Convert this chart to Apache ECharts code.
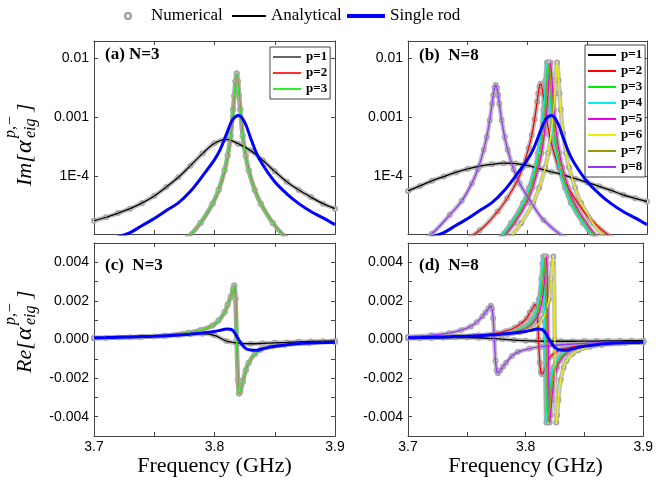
<!DOCTYPE html>
<html>
<head>
<meta charset="utf-8">
<title>Im / Re of alpha eig</title>
<script src="https://cdn.jsdelivr.net/npm/echarts@6/dist/echarts.min.js"></script>
<style>
  html, body { margin: 0; padding: 0; background: #fff; }
  #chart { width: 656px; height: 483px; }
</style>
</head>
<body>
<div id="chart"></div>
<script>
// ---- values (GHz, Im / Re) ----

// broad p=1 modes, 0.01 GHz grid
const freqGrid = [3.70, 3.71, 3.72, 3.73, 3.74, 3.75, 3.76, 3.77, 3.78, 3.79, 3.80,
                  3.81, 3.82, 3.83, 3.84, 3.85, 3.86, 3.87, 3.88, 3.89, 3.90];
const imA1 = [1.75e-5, 2.0e-5, 2.35e-5, 2.8e-5, 3.5e-5, 4.6e-5, 6.5e-5, 9.5e-5, 1.5e-4, 2.4e-4, 3.6e-4,
              4.2e-4, 3.5e-4, 2.7e-4, 1.85e-4, 1.2e-4, 8.0e-5, 5.8e-5, 4.4e-5, 3.4e-5, 2.8e-5];
const reA1 = [0.00007, 0.00008, 0.0001, 0.00012, 0.00014, 0.00016, 0.0002, 0.00023, 0.00027, 0.0003, 0.00022,
              -0.00008, -0.00019, -0.00022, -0.0002, -0.00017, -0.00015, -0.00012, -0.0001, -0.00009, -0.00008];
const imB1 = [5.6e-5, 6.8e-5, 8.3e-5, 9.8e-5, 1.15e-4, 1.32e-4, 1.47e-4, 1.58e-4, 1.65e-4, 1.63e-4, 1.52e-4,
              1.33e-4, 1.18e-4, 1.05e-4, 9.0e-5, 7.8e-5, 6.7e-5, 5.7e-5, 4.8e-5, 4.2e-5, 3.7e-5];
const reB1 = [0.00006, 0.00007, 0.00008, 0.00009, 0.0001, 0.0001, 0.00009, 0.00006, 0.00002, -0.00003, -0.00006,
              -0.00008, -0.00009, -0.00009, -0.00009, -0.00008, -0.00008, -0.00007, -0.00007, -0.00006, -0.00006];

// N=3, p=2 and p=3 (almost on top of each other)
const freqA2 = [3.70, 3.7385, 3.7585, 3.7785, 3.7885, 3.7985, 3.8035, 3.8085, 3.8110, 3.8135, 3.8155, 3.8165, 3.8175,
                3.8185, 3.8195, 3.8205, 3.8215, 3.8235, 3.8260, 3.8285, 3.8335, 3.8385, 3.8485, 3.8585, 3.8785, 3.90];
const freqA3 = [3.70, 3.7383, 3.7583, 3.7783, 3.7883, 3.7983, 3.8033, 3.8083, 3.8108, 3.8133, 3.8153, 3.8163, 3.8173,
                3.8183, 3.8193, 3.8203, 3.8213, 3.8233, 3.8258, 3.8283, 3.8333, 3.8383, 3.8483, 3.8583, 3.8783, 3.90];
const imA23 = [1.5e-6, 3.0e-6, 5.0e-6, 9.5e-6, 1.6e-5, 3.4e-5, 5.8e-5, 1.25e-4, 2.2e-4, 4.8e-4, 1.35e-3, 2.3e-3, 4.0e-3,
               5.5e-3, 4.0e-3, 2.3e-3, 1.35e-3, 4.8e-4, 2.2e-4, 1.25e-4, 5.8e-5, 3.4e-5, 1.6e-5, 9.5e-6, 5.0e-6, 2.9e-6];
const reA23 = [0.00008, 0.00013, 0.0002, 0.00035, 0.00048, 0.00072, 0.00098, 0.00142, 0.0018, 0.0022, 0.0026, 0.0028, 0.0021,
               0.0, -0.0021, -0.0028, -0.0027, -0.0022, -0.0016, -0.0012, -0.00075, -0.00052, -0.00035, -0.00027, -0.00018, -0.00012];

// single rod
const freqRod = [3.70, 3.71, 3.72, 3.73, 3.74, 3.75, 3.76, 3.77, 3.78, 3.79, 3.80, 3.805, 3.81,
                 3.815, 3.82, 3.825, 3.83, 3.835, 3.84, 3.85, 3.86, 3.87, 3.88, 3.89, 3.90];
const imRod = [6.5e-6, 7.8e-6, 9.3e-6, 1.1e-5, 1.45e-5, 1.9e-5, 2.6e-5, 3.5e-5, 5.5e-5, 1.0e-4, 1.9e-4, 2.9e-4, 5.2e-4,
               9.0e-4, 1.06e-3, 8.2e-4, 4.4e-4, 2.4e-4, 1.55e-4, 8.0e-5, 5.0e-5, 3.4e-5, 2.5e-5, 1.95e-5, 1.5e-5];
const reRod = [0.00009, 0.0001, 0.00012, 0.00013, 0.00015, 0.00017, 0.0002, 0.00023, 0.00028, 0.00034, 0.00042, 0.00048, 0.00054,
               0.00048, 0.0, -0.00042, -0.00055, -0.00056, -0.00048, -0.00035, -0.00027, -0.00021, -0.00018, -0.00016, -0.00014];

// N=8, p=2
const freqB2 = [3.70, 3.73, 3.76, 3.775, 3.783, 3.791, 3.796, 3.801, 3.8035, 3.806, 3.808, 3.809, 3.810,
                3.811, 3.812, 3.813, 3.814, 3.816, 3.8185, 3.821, 3.826, 3.831, 3.841, 3.851, 3.871, 3.90];
const imB2 = [3e-6, 5e-6, 1.2e-5, 2.5e-5, 4.2e-5, 8.0e-5, 1.4e-4, 3.0e-4, 4.9e-4, 9.3e-4, 1.8e-3, 2.5e-3, 3.3e-3,
              3.7e-3, 3.3e-3, 2.5e-3, 1.8e-3, 9.3e-4, 4.9e-4, 3.0e-4, 1.4e-4, 8.0e-5, 3.8e-5, 2.0e-5, 9e-6, 4.5e-6];
const reB2 = [0.0001, 0.00014, 0.00022, 0.00032, 0.00043, 0.00062, 0.00083, 0.0011, 0.0014, 0.0016, 0.0018, 0.0017, 0.0012,
              0.0, -0.0012, -0.0017, -0.0018, -0.0016, -0.0012, -0.0009, -0.00065, -0.0005, -0.00037, -0.00029, -0.0002, -0.00014];

// N=8, p=8
const freqB8 = [3.70, 3.72, 3.735, 3.745, 3.7534, 3.7584, 3.7634, 3.7659, 3.7684, 3.7704, 3.7714, 3.7724,
                3.7734, 3.7744, 3.7754, 3.7764, 3.7784, 3.7809, 3.7834, 3.7884, 3.7934, 3.8034, 3.8134, 3.8334, 3.86, 3.90];
const imB8 = [5.5e-6, 1.05e-5, 2.2e-5, 3.8e-5, 7.5e-5, 1.3e-4, 2.8e-4, 4.6e-4, 8.8e-4, 1.69e-3, 2.37e-3, 3.13e-3,
              3.5e-3, 3.13e-3, 2.37e-3, 1.69e-3, 8.8e-4, 4.6e-4, 2.8e-4, 1.3e-4, 7.5e-5, 3.5e-5, 1.8e-5, 8.5e-6, 5e-6, 2.5e-6];
const reB8 = [0.00013, 0.00022, 0.00033, 0.00048, 0.00068, 0.0009, 0.0012, 0.0014, 0.0016, 0.00175, 0.0016, 0.0011,
              0.0, -0.0011, -0.0016, -0.00175, -0.0016, -0.0014, -0.0012, -0.00085, -0.00065, -0.00047, -0.00037, -0.00026, -0.00018, -0.00012];

// N=8, p=3..7: same narrow line shape, different centres
const freqB3 = [3.70, 3.7568, 3.7768, 3.7868, 3.7968, 3.8018, 3.8068, 3.8093, 3.8118, 3.8138, 3.8148, 3.8155, 3.8168,
                3.8181, 3.8188, 3.8198, 3.8218, 3.8243, 3.8268, 3.8318, 3.8368, 3.8468, 3.8568, 3.8768, 3.90];
const freqB4 = [3.70, 3.7563, 3.7763, 3.7863, 3.7963, 3.8013, 3.8063, 3.8088, 3.8113, 3.8133, 3.8143, 3.8150, 3.8163,
                3.8176, 3.8183, 3.8193, 3.8213, 3.8238, 3.8263, 3.8313, 3.8363, 3.8463, 3.8563, 3.8763, 3.90];
const freqB5 = [3.70, 3.7592, 3.7792, 3.7892, 3.7992, 3.8042, 3.8092, 3.8117, 3.8142, 3.8162, 3.8172, 3.8179, 3.8192,
                3.8205, 3.8212, 3.8222, 3.8242, 3.8267, 3.8292, 3.8342, 3.8392, 3.8492, 3.8592, 3.8792, 3.90];
const freqB6 = [3.70, 3.7648, 3.7848, 3.7948, 3.8048, 3.8098, 3.8148, 3.8173, 3.8198, 3.8218, 3.8228, 3.8235, 3.8248,
                3.8261, 3.8268, 3.8278, 3.8298, 3.8323, 3.8348, 3.8398, 3.8448, 3.8548, 3.8648, 3.8848, 3.90];
const freqB7 = [3.70, 3.7580, 3.7780, 3.7880, 3.7980, 3.8030, 3.8080, 3.8105, 3.8130, 3.8150, 3.8160, 3.8167, 3.8180,
                3.8193, 3.8200, 3.8210, 3.8230, 3.8255, 3.8280, 3.8330, 3.8380, 3.8480, 3.8580, 3.8780, 3.90];
const imNarrow = [1.0e-6, 3.9e-6, 8.9e-6, 1.6e-5, 3.5e-5, 6.3e-5, 1.4e-4, 2.45e-4, 5.3e-4, 1.33e-3, 2.5e-3, 4.2e-3,
                  8.4e-3, 4.2e-3, 2.5e-3, 1.33e-3, 5.3e-4, 2.45e-4, 1.4e-4, 6.3e-5, 3.5e-5, 1.6e-5, 8.9e-6, 3.9e-6, 2.0e-6];
const reNarrow = [9.6e-5, 1.87e-4, 2.79e-4, 3.73e-4, 5.57e-4, 7.4e-4, 1.1e-3, 1.45e-3, 2.09e-3, 3.14e-3, 3.93e-3, 4.3e-3,
                  0, -4.3e-3, -3.93e-3, -3.14e-3, -2.09e-3, -1.45e-3, -1.1e-3, -7.4e-4, -5.57e-4, -3.73e-4, -2.79e-4, -1.87e-4, -1.33e-4];

const colorsA = ['#000000', '#ff3030', '#30ee30'];
const colorsB = ['#000000', '#ff0000', '#00ee00', '#00eeee', '#ee00ee', '#eeee00', '#999900', '#9933ff'];

// ---- helpers ----
const serif = '"Liberation Serif", "Times New Roman", serif';
const sans = '"Liberation Sans", Arial, sans-serif';
const frame = '#444';

function pts(f, v) { return f.map((x, i) => [x, v[i]]); }

function numerical(g, f, v) {
    return {
        name: 'Numerical', type: 'line', xAxisIndex: g, yAxisIndex: g,
        data: pts(f, v), smooth: 0.35,
        symbol: 'emptyCircle', symbolSize: 4, showAllSymbol: true,
        lineStyle: { color: 'rgba(150,150,150,0.6)', width: 4.5 },
        itemStyle: { color: '#a8a8a8', borderWidth: 1 },
        z: 2, silent: true
    };
}

function analytical(g, name, color, f, v) {
    return {
        name: name, type: 'line', xAxisIndex: g, yAxisIndex: g,
        data: pts(f, v), smooth: 0.35, symbol: 'none',
        lineStyle: { color: color, width: 1.3 }, itemStyle: { color: color },
        z: 3, silent: true
    };
}

function rod(g, v) {
    return {
        name: 'Single rod', type: 'line', xAxisIndex: g, yAxisIndex: g,
        data: pts(freqRod, v), smooth: 0.35, symbol: 'none',
        lineStyle: { color: '#0000ff', width: 3 }, itemStyle: { color: '#0000ff' },
        z: 4, silent: true
    };
}

function freqLabel(v) {
    const t = Math.round(v * 100);
    return t % 10 === 0 ? (t / 100).toFixed(1) : '';
}
function logLabel(v) {
    const e = Math.log10(v), r = Math.round(e);
    if (Math.abs(e - r) > 1e-6) return '';
    return { '-2': '0.01', '-3': '0.001', '-4': '1E-4' }[r] || '';
}
function reLabel(v) {
    const k = Math.round(v * 1000);
    if (k % 2 !== 0 || Math.abs(k) > 4) return '';
    return (k / 1000).toFixed(3);
}

// ---- axes ----
const grids = [
    { left: 94, top: 41, width: 241, height: 193 },
    { left: 408, top: 41, width: 239, height: 193 },
    { left: 94, top: 243, width: 241, height: 193 },
    { left: 408, top: 243, width: 239, height: 193 }
];

const xAxes = [];
const yAxes = [];
[false, true].forEach(second => {
    grids.forEach((g, i) => {
        const bottomRow = i >= 2;
        xAxes.push({
            type: 'value', gridIndex: i, position: second ? 'top' : 'bottom',
            min: 3.7, max: 3.9, interval: 0.05,
            axisLine: { onZero: false, lineStyle: { color: frame } },
            axisTick: { inside: true, length: 4, lineStyle: { color: frame } },
            splitLine: { show: false },
            axisLabel: {
                show: !second && bottomRow, formatter: freqLabel,
                fontFamily: sans, fontSize: 14, color: '#000', margin: 4
            },
            name: (!second && bottomRow) ? 'Frequency (GHz)' : '',
            nameLocation: 'middle', nameGap: 14,
            nameTextStyle: { fontFamily: serif, fontSize: 22, color: '#000' }
        });
        const common = {
            gridIndex: i, position: second ? 'right' : 'left',
            axisLine: { show: true, onZero: false, lineStyle: { color: frame } },
            axisTick: { show: true, inside: true, length: 4, lineStyle: { color: frame } },
            splitLine: { show: false },
            axisLabel: {
                show: !second, fontFamily: sans, fontSize: 14, color: '#000', margin: 5,
                formatter: bottomRow ? reLabel : logLabel
            }
        };
        if (bottomRow) {
            yAxes.push(Object.assign({ type: 'value', min: -0.005, max: 0.005, interval: 0.001 }, common));
        } else {
            yAxes.push(Object.assign({ type: 'log', logBase: 10, min: 1.04e-5, max: 0.0195 }, common));
        }
    });
});

// ---- series ----
const series = [];
// (a) N=3, Im
series.push(numerical(0, freqGrid, imA1), numerical(0, freqA2, imA23), numerical(0, freqA3, imA23));
series.push(analytical(0, 'p=1', colorsA[0], freqGrid, imA1),
            analytical(0, 'p=2', colorsA[1], freqA2, imA23),
            analytical(0, 'p=3', colorsA[2], freqA3, imA23));
series.push(rod(0, imRod));
// (c) N=3, Re
series.push(numerical(2, freqGrid, reA1), numerical(2, freqA2, reA23), numerical(2, freqA3, reA23));
series.push(analytical(2, 'p=1', colorsA[0], freqGrid, reA1),
            analytical(2, 'p=2', colorsA[1], freqA2, reA23),
            analytical(2, 'p=3', colorsA[2], freqA3, reA23));
series.push(rod(2, reRod));
// (b)/(d) N=8
const modesB = [
    [freqGrid, imB1, reB1], [freqB2, imB2, reB2], [freqB3, imNarrow, reNarrow], [freqB4, imNarrow, reNarrow],
    [freqB5, imNarrow, reNarrow], [freqB6, imNarrow, reNarrow], [freqB7, imNarrow, reNarrow], [freqB8, imB8, reB8]
];
modesB.forEach(m => {
    series.push(numerical(1, m[0], m[1]));
    series.push(numerical(3, m[0], m[2]));
});
modesB.forEach((m, k) => {
    series.push(analytical(1, 'p=' + (k + 1), colorsB[k], m[0], m[1]));
    series.push(analytical(3, 'p=' + (k + 1), colorsB[k], m[0], m[2]));
});
series.push(rod(1, imRod), rod(3, reRod));
// only for the top legend entry
series.push({ name: 'Analytical', type: 'line', xAxisIndex: 0, yAxisIndex: 0, data: [],
              lineStyle: { color: '#000' }, itemStyle: { color: '#000' } });

// ---- legends ----
const topText = { fontFamily: serif, fontSize: 17, color: '#000', lineHeight: 20 };
const boxText = { fontFamily: serif, fontWeight: 'bold', fontSize: 13, color: '#000', lineHeight: 14 };
const legends = [
    { data: [{ name: 'Numerical', icon: 'emptyCircle', itemStyle: { color: '#999', borderColor: '#999', borderWidth: 0.8 } }],
      left: 124, top: 6, padding: 0, itemWidth: 6, itemHeight: 6, selectedMode: false,
      textStyle: Object.assign({ padding: [0, 0, 0, 15] }, topText) },
    { data: [{ name: 'Analytical', icon: 'rect', itemStyle: { color: '#000' } }],
      left: 232, top: 6, padding: 0, itemWidth: 34, itemHeight: 2, selectedMode: false, textStyle: topText },
    { data: [{ name: 'Single rod', icon: 'rect', itemStyle: { color: '#0000ff' } }],
      left: 347, top: 6, padding: 0, itemWidth: 38, itemHeight: 4, selectedMode: false, textStyle: topText },
    { data: ['p=1', 'p=2', 'p=3'].map((n, k) => ({ name: n, itemStyle: { color: k === 0 ? '#666' : colorsA[k] } })),
      left: 270, top: 47, orient: 'vertical', icon: 'rect', itemWidth: 28, itemHeight: 2, itemGap: 2,
      padding: 3, borderColor: frame, borderWidth: 1, backgroundColor: '#fff', selectedMode: false,
      textStyle: boxText, z: 10 },
    { data: colorsB.map((c, k) => ({ name: 'p=' + (k + 1), itemStyle: { color: c } })),
      left: 585, top: 45, orient: 'vertical', icon: 'rect', itemWidth: 28, itemHeight: 2, itemGap: 2,
      padding: 3, borderColor: frame, borderWidth: 1, backgroundColor: '#fff', selectedMode: false,
      textStyle: boxText, z: 10 }
];

// ---- text: panel labels and rotated y titles ----
function panelLabel(text, x, y) {
    return { type: 'text', x: x, y: y, z: 20,
             style: { text: text, font: 'bold 17px ' + serif, fill: '#000',
                      align: 'left', verticalAlign: 'middle', textAlign: 'left', textVerticalAlign: 'middle' } };
}
function piece(text, x, y, size) {
    return { type: 'text', x: x, y: y,
             style: { text: text, font: 'italic ' + size + 'px ' + serif, fill: '#000',
                      align: 'left', verticalAlign: 'middle', textAlign: 'left', textVerticalAlign: 'middle' } };
}
function yTitle(head, bottomY) {
    return { type: 'group', x: 32, y: bottomY, rotation: Math.PI / 2, z: 20,
             children: [
                 piece(head + '[', 0, -7, 22),
                 piece('\u03b1', 33, -7, 24),
                 piece('p,\u2212', 48, -21, 16),
                 piece('eig', 48, -1, 16),
                 piece(']', 74, -7, 22)
             ] };
}

const chart = echarts.init(document.getElementById('chart'), null, { renderer: 'canvas' });
chart.setOption({
    animation: false,
    backgroundColor: '#fff',
    grid: grids,
    xAxis: xAxes,
    yAxis: yAxes,
    legend: legends,
    series: series,
    graphic: { elements: [
        panelLabel('(a) N=3', 105, 55),
        panelLabel('(b)  N=8', 419, 56),
        panelLabel('(c)  N=3', 105, 266),
        panelLabel('(d)  N=8', 419, 266),
        yTitle('Im', 186),
        yTitle('Re', 373)
    ] }
});
</script>
</body>
</html>
